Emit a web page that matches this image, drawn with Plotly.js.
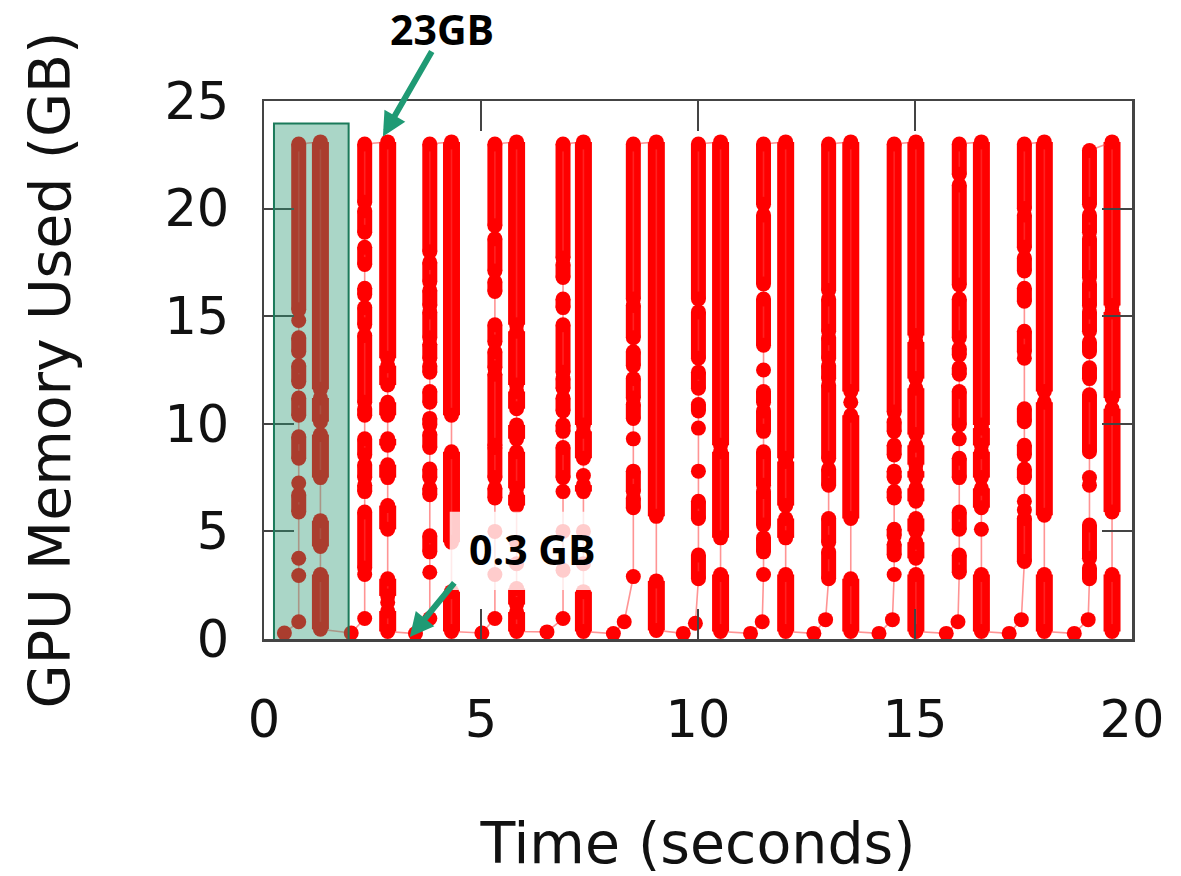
<!DOCTYPE html>
<html>
<head>
<meta charset="utf-8">
<script src="https://cdn.plot.ly/plotly-3.0.1.min.js"></script>
<style>html,body{margin:0;padding:0;background:#fff;}#chart{width:1181px;height:876px;}</style>
</head>
<body>
<div id="chart"></div>
<script>
// ---- Data (time in s, memory in GB) ----
// time of the rising (allocation) column and the falling (release) column of each iteration
const riseTime = [0.80, 2.32, 3.82, 5.32, 6.89, 8.51, 10.01, 11.51, 13.01, 14.52, 16.02, 17.52, 19.02];
const fallTime = [1.30, 2.85, 4.32, 5.82, 7.36, 9.04, 10.52, 12.02, 13.52, 15.02, 16.53, 17.98, 19.54];

// idle samples between iterations
const idleTime = [0.47, 2.01, 3.49, 5.02, 6.52, 8.05, 8.30, 9.66, 9.94, 11.21, 11.48, 12.67, 12.94, 14.17, 14.48, 15.72, 15.99, 17.17, 17.45, 18.67, 18.99];
const idleMem  = [0.28, 0.28, 0.25, 0.28, 0.33, 0.25, 0.80, 0.26, 0.73, 0.26, 0.80, 0.26, 0.90, 0.26, 0.90, 0.26, 0.80, 0.26, 0.90, 0.26, 0.90];

// dense sample runs [low, high] and isolated samples in each rising column
const riseRuns = [
  [[15.3,23.0],[13.35,14.0],[11.95,12.7],[10.4,11.2],[8.4,9.4],[5.9,6.7]],
  [[20.3,23.0],[18.9,19.9],[17.4,18.2],[16.0,16.3],[14.6,15.4],[11.0,14.1],[10.4,10.7],[8.55,9.3],[7.5,8.1],[6.85,7.15],[3.3,5.9]],
  [[18.0,23.0],[16.6,17.5],[15.5,16.2],[14.0,15.2],[13.05,13.7],[12.4,12.7],[11.0,11.5],[9.95,10.25],[8.9,9.5],[7.5,7.9],[6.7,7.0],[4.05,4.8]],
  [[19.2,23.0],[17.1,18.6],[16.15,16.6],[13.8,14.6],[12.6,13.35],[9.0,12.3],[7.5,8.9],[6.55,7.0]],
  [[17.7,23.0],[16.8,17.4],[15.4,15.8],[12.4,14.6],[11.65,12.1],[10.6,11.2],[9.65,9.95],[7.5,8.9]],
  [[15.8,23.0],[14.0,15.5],[12.7,13.35],[11.2,12.1],[10.25,10.9],[6.85,7.8],[6.1,6.55]],
  [[15.8,23.0],[13.05,15.2],[11.65,12.4],[10.6,10.9],[5.6,6.4],[2.8,3.9]],
  [[20.2,23.0],[16.5,19.7],[13.65,15.8],[11.0,11.5],[9.65,10.6],[7.15,8.7],[5.3,6.85],[4.05,4.7]],
  [[16.2,23.0],[14.3,15.8],[13.05,14.0],[12.1,12.7],[8.4,11.8],[7.15,7.9],[4.5,5.6],[2.8,4.05]],
  [[10.55,23.0],[9.65,10.1],[8.55,9.0],[7.5,7.8],[6.55,6.85],[4.8,5.1],[3.9,4.4]],
  [[21.6,23.0],[16.45,21.1],[14.0,15.8],[13.2,13.5],[12.3,12.6],[9.95,11.5],[7.5,8.4],[5.1,5.9],[3.1,3.9]],
  [[20.0,23.0],[18.2,19.7],[17.1,17.7],[15.7,16.3],[13.35,14.3],[10.1,10.7],[8.55,9.0],[7.5,7.9],[3.6,5.6]],
  [[20.2,22.7],[18.9,19.7],[16.8,18.6],[15.5,16.5],[14.3,15.2],[13.35,13.8],[12.1,12.6],[8.7,11.35],[3.75,5.3],[2.8,3.3]]
];
const riseBeads = [
  [14.8, 7.25, 3.75, 2.95, 0.8],
  [3.0, 0.95],
  [3.1, 0.95],
  [5.0, 3.0, 0.95],
  [6.85, 5.0, 3.2, 0.95],
  [9.3, 2.9],
  [9.8, 7.8],
  [12.5, 3.0],
  [],
  [3.0],
  [9.3],
  [13.05, 6.4, 6.0],
  [7.5, 7.15]
];
// dense sample runs and isolated samples in each falling column
const fallRuns = [
  [[11.6,23.1],[10.1,11.2],[7.5,9.5],[4.3,5.5],[0.45,3.0]],
  [[13.05,23.1],[11.8,12.7],[10.4,11.0],[9.0,9.3],[7.5,8.1],[5.1,6.2],[2.0,2.8],[0.35,1.3]],
  [[10.4,23.1],[4.5,8.7],[0.35,2.2]],
  [[14.6,23.1],[11.8,14.3],[10.7,11.5],[9.3,9.95],[7.0,8.7],[6.2,6.7],[1.6,2.35],[0.35,1.25]],
  [[9.95,23.1],[8.4,9.65],[6.85,7.15],[0.35,2.2]],
  [[5.7,23.1],[0.4,2.7]],
  [[9.0,23.1],[4.7,8.7],[0.35,3.0]],
  [[8.4,23.1],[6.2,8.25],[4.7,5.6],[0.35,3.0]],
  [[11.5,23.1],[5.6,10.4],[0.35,2.8]],
  [[14.1,23.1],[12.1,13.8],[9.5,11.65],[8.1,9.0],[7.5,7.8],[6.4,7.0],[5.0,5.6],[3.75,4.5],[0.35,3.0]],
  [[9.95,23.1],[9.0,9.8],[7.5,8.7],[6.1,7.0],[0.35,3.0]],
  [[11.5,23.1],[5.75,11.0],[0.35,3.0]],
  [[15.5,23.1],[11.2,15.2],[5.9,10.7],[0.35,3.0]]
];
const fallBeads = [
  [], [1.7], [], [4.5, 3.5], [7.6, 5.0, 3.5], [], [], [], [11.0], [], [5.1], [], []
];
const xTicks = [0, 5, 10, 15, 20];
const yTicks = [0, 5, 10, 15, 20, 25];

// ---- Build traces from the data ----
const pathX = [], pathY = [];
const riseRunX = [], riseRunY = [], fallRunX = [], fallRunY = [];
let idx = 0;
for (let i = 0; i < riseTime.length; i++) {
  while (idx < idleTime.length && idleTime[idx] < riseTime[i]) {
    pathX.push(idleTime[idx]); pathY.push(idleMem[idx]); idx++;
  }
  const up = riseBeads[i].slice();
  riseRuns[i].forEach(r => { up.push(r[0], r[1]); riseRunX.push(riseTime[i], riseTime[i], null); riseRunY.push(r[0], r[1], null); });
  up.sort((a, b) => a - b).forEach(v => { pathX.push(riseTime[i]); pathY.push(v); });
  const down = fallBeads[i].slice();
  fallRuns[i].forEach(r => { down.push(r[0], r[1]); fallRunX.push(fallTime[i], fallTime[i], null); fallRunY.push(r[0], r[1], null); });
  down.sort((a, b) => b - a).forEach(v => { pathX.push(fallTime[i]); pathY.push(v); });
}
while (idx < idleTime.length) { pathX.push(idleTime[idx]); pathY.push(idleMem[idx]); idx++; }

const traces = [
  { x: riseRunX, y: riseRunY, type: 'scatter', mode: 'lines', connectgaps: false,
    line: { color: '#ff0000', width: 15 }, hoverinfo: 'skip' },
  { x: fallRunX, y: fallRunY, type: 'scatter', mode: 'lines', connectgaps: false,
    line: { color: '#ff0000', width: 17 }, hoverinfo: 'skip' },
  { x: pathX, y: pathY, type: 'scatter', mode: 'lines+markers',
    line: { color: 'rgba(255,60,60,0.55)', width: 1.6 },
    marker: { color: '#ff0000', size: 15, line: { width: 0 } } }
];

const tickFont = { family: 'DejaVu Sans', size: 51, color: '#111' };
const titleFont = { family: 'DejaVu Sans', size: 57, color: '#111' };
const annFont = { family: 'Open Sans', size: 41, color: '#000', weight: 700 };
const arrowGreen = '#1f9a74';

const layout = {
  width: 1181, height: 876,
  margin: { l: 264, r: 49, t: 101, b: 237 },
  paper_bgcolor: '#fff', plot_bgcolor: '#fff',
  showlegend: false,
  xaxis: {
    range: [0, 20], tickvals: xTicks, ticktext: xTicks.map(String),
    ticks: 'inside', ticklen: 30, tickwidth: 2, tickcolor: '#444',
    showline: true, linecolor: '#444', linewidth: 2.5, mirror: 'ticks',
    showgrid: false, zeroline: false, tickfont: tickFont, ticklabelstandoff: 34,
    title: { text: 'Time (seconds)', font: titleFont, standoff: 76 }
  },
  yaxis: {
    range: [0, 25], tickvals: yTicks, ticktext: yTicks.map(String),
    ticks: 'inside', ticklen: 30, tickwidth: 2, tickcolor: '#444',
    showline: true, linecolor: '#444', linewidth: 2.5, mirror: 'ticks',
    showgrid: false, zeroline: false, tickfont: tickFont, ticklabelstandoff: 22,
    title: { text: 'GPU Memory Used (GB)', font: titleFont, standoff: 76 }
  },
  shapes: [
    { type: 'rect', xref: 'x', yref: 'y', x0: 0.23, x1: 1.95, y0: -0.1, y1: 23.95,
      fillcolor: 'rgba(43,153,115,0.4)', line: { color: '#1b7a5a', width: 2 }, layer: 'above' },
    { type: 'rect', xref: 'x', yref: 'y', x0: 4.28, x1: 7.68, y0: 2.28, y1: 5.91,
      fillcolor: 'rgba(255,255,255,0.8)', line: { width: 0 }, layer: 'above' }
  ],
  annotations: [
    { xref: 'paper', yref: 'paper', x: 0.205, y: 1.1877, xanchor: 'center', yanchor: 'top',
      text: '23GB', showarrow: false, font: annFont, borderpad: 0 },
    { xref: 'x', yref: 'y', x: 6.18, y: 4.19, xanchor: 'center', yanchor: 'middle',
      text: '0.3 GB', showarrow: false, font: annFont },
    { xref: 'x', yref: 'y', x: 2.74, y: 23.35, text: ' ', font: { size: 1 },
      showarrow: true, ax: 50, ay: -87, arrowcolor: arrowGreen, arrowwidth: 6, arrowhead: 2, arrowsize: 0.8, standoff: 0 },
    { xref: 'x', yref: 'y', x: 3.36, y: 0.09, text: ' ', font: { size: 1 },
      showarrow: true, ax: 46, ay: -56, arrowcolor: arrowGreen, arrowwidth: 6, arrowhead: 2, arrowsize: 0.8, standoff: 0 }
  ]
};

Plotly.newPlot('chart', traces, layout, { displayModeBar: false, staticPlot: true });
</script>
</body>
</html>
